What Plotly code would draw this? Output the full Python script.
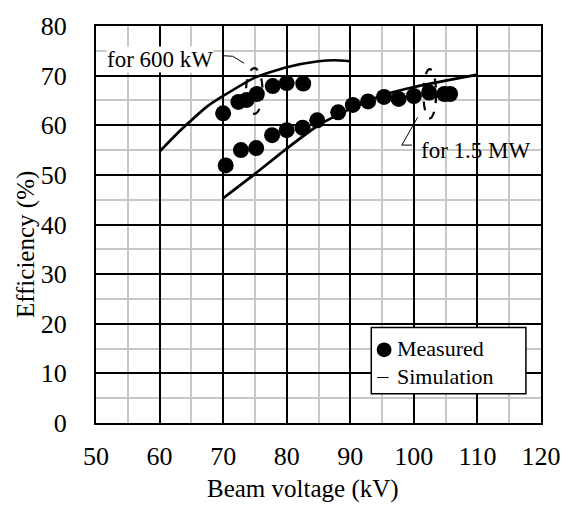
import plotly.graph_objects as go

# ---------------- data ----------------
meas_600kw_kv = [70.0, 72.4, 73.7, 75.3, 77.8, 80.0, 82.6]
meas_600kw_eff = [62.4, 64.7, 65.1, 66.3, 67.9, 68.5, 68.4]

meas_1p5mw_kv = [70.4, 72.8, 75.2, 77.7, 80.0, 82.5, 84.8, 88.1, 90.4, 92.8, 95.3, 97.6, 100.0, 102.4, 104.8, 105.7]
meas_1p5mw_eff = [51.9, 55.0, 55.4, 58.0, 59.0, 59.5, 61.0, 62.6, 64.1, 64.8, 65.7, 65.3, 65.9, 66.6, 66.3, 66.3]

sim_600kw_kv = [60, 62.5, 65, 67.5, 70, 75, 80, 85, 87.5, 90]
sim_600kw_eff = [54.7, 58.0, 61.0, 63.8, 65.9, 69.6, 71.7, 72.9, 73.1, 72.9]

sim_1p5mw_kv = [70, 75, 80, 85, 90, 95, 100, 105, 110]
sim_1p5mw_eff = [45.3, 50.2, 55.3, 60.0, 63.3, 66.0, 67.7, 69.0, 70.2]

x_ticks = [50, 60, 70, 80, 90, 100, 110, 120]
y_ticks = [0, 10, 20, 30, 40, 50, 60, 70, 80]

FONT = "Liberation Serif"

fig = go.Figure()

for kv, eff in [(sim_600kw_kv, sim_600kw_eff), (sim_1p5mw_kv, sim_1p5mw_eff)]:
    fig.add_trace(go.Scatter(x=kv, y=eff, mode="lines",
                             line=dict(color="black", width=2.7, shape="spline", smoothing=0.6),
                             showlegend=False, hoverinfo="skip"))

for kv, eff in [(meas_600kw_kv, meas_600kw_eff), (meas_1p5mw_kv, meas_1p5mw_eff)]:
    fig.add_trace(go.Scatter(x=kv, y=eff, mode="markers",
                             marker=dict(color="black", size=16, line=dict(width=0)),
                             showlegend=False))

# dashed ellipses
fig.add_shape(type="circle", xref="x", yref="y", x0=73.6, x1=76.2, y0=62.3, y1=71.5,
              line=dict(color="black", width=2.2, dash="dash"))
fig.add_shape(type="circle", xref="x", yref="y", x0=101.5, x1=103.5, y0=61.4, y1=71.3,
              line=dict(color="black", width=2.2, dash="dash"))

# leader lines
fig.add_trace(go.Scatter(x=[70.1, 71.5, 73.3], y=[74.0, 73.9, 72.5], mode="lines",
                         line=dict(color="black", width=1), showlegend=False, hoverinfo="skip"))
fig.add_trace(go.Scatter(x=[100.6, 98.1, 99.7], y=[61.6, 56.0, 56.0], mode="lines",
                         line=dict(color="black", width=1), showlegend=False, hoverinfo="skip"))

fig.add_annotation(x=60, y=73.3, xref="x", yref="y", text="for 600 kW", showarrow=False,
                   font=dict(family=FONT, size=23, color="black"), bgcolor="white",
                   xanchor="center", yanchor="middle", borderpad=0)
fig.add_annotation(x=109.7, y=55.0, xref="x", yref="y", text="for 1.5 MW", showarrow=False,
                   font=dict(family=FONT, size=23, color="black"),
                   xanchor="center", yanchor="middle")

# legend box (paper coords)
W, H = 573, 505
L, R, T, B = 96, 26, 19, 82
pw, ph = W - L - R, H - T - B
def px(x): return (x - L) / pw
def py(y): return (H - B - y) / ph

fig.add_shape(type="rect", xref="paper", yref="paper", x0=px(375), x1=px(531.7), y0=py(393.3), y1=py(325.7),
              line=dict(color="black", width=1.5), fillcolor="white", layer="above")
fig.add_shape(type="circle", xref="paper", yref="paper", x0=px(380.5), x1=px(395.5), y0=py(356), y1=py(341),
              line=dict(width=0), fillcolor="black", layer="above")
fig.add_shape(type="line", xref="paper", yref="paper", x0=px(381), x1=px(392.5), y0=py(376.7), y1=py(376.7),
              line=dict(color="black", width=1), layer="above")
fig.add_annotation(x=px(399), y=py(347), xref="paper", yref="paper", text="Measured", showarrow=False,
                   xanchor="left", yanchor="middle", font=dict(family=FONT, size=22, color="black"))
fig.add_annotation(x=px(399), y=py(375.5), xref="paper", yref="paper", text="Simulation", showarrow=False,
                   xanchor="left", yanchor="middle", font=dict(family=FONT, size=22, color="black"))

# axis titles
fig.add_annotation(x=px(25), y=py(241), xref="paper", yref="paper", text="Efficiency (%)", showarrow=False,
                   textangle=-90, xanchor="center", yanchor="middle",
                   font=dict(family=FONT, size=25, color="black"))
fig.add_annotation(x=px(306), y=py(490), xref="paper", yref="paper", text="Beam voltage (kV)", showarrow=False,
                   xanchor="center", yanchor="middle",
                   font=dict(family=FONT, size=25, color="black"))

axis_common = dict(showline=True, linecolor="black", linewidth=2, mirror=True,
                   showgrid=True, gridcolor="black", gridwidth=1.5,
                   ticks="", zeroline=False,
                   tickfont=dict(family=FONT, size=26, color="black"))

fig.update_xaxes(range=[50, 120], tickvals=x_ticks, ticklabelstandoff=9,
                 minor=dict(dtick=5, tick0=0, showgrid=True, gridcolor="#c8c8c8", gridwidth=1.5),
                 **axis_common)
fig.update_yaxes(range=[0, 80], tickvals=y_ticks, ticklabelstandoff=22,
                 minor=dict(dtick=5, tick0=0, showgrid=True, gridcolor="#c8c8c8", gridwidth=1.5),
                 **axis_common)

fig.update_layout(width=W, height=H, margin=dict(l=L, r=R, t=T, b=B),
                  paper_bgcolor="white", plot_bgcolor="white", showlegend=False,
                  font=dict(family=FONT, color="black"))

fig.write_html("out.html")
